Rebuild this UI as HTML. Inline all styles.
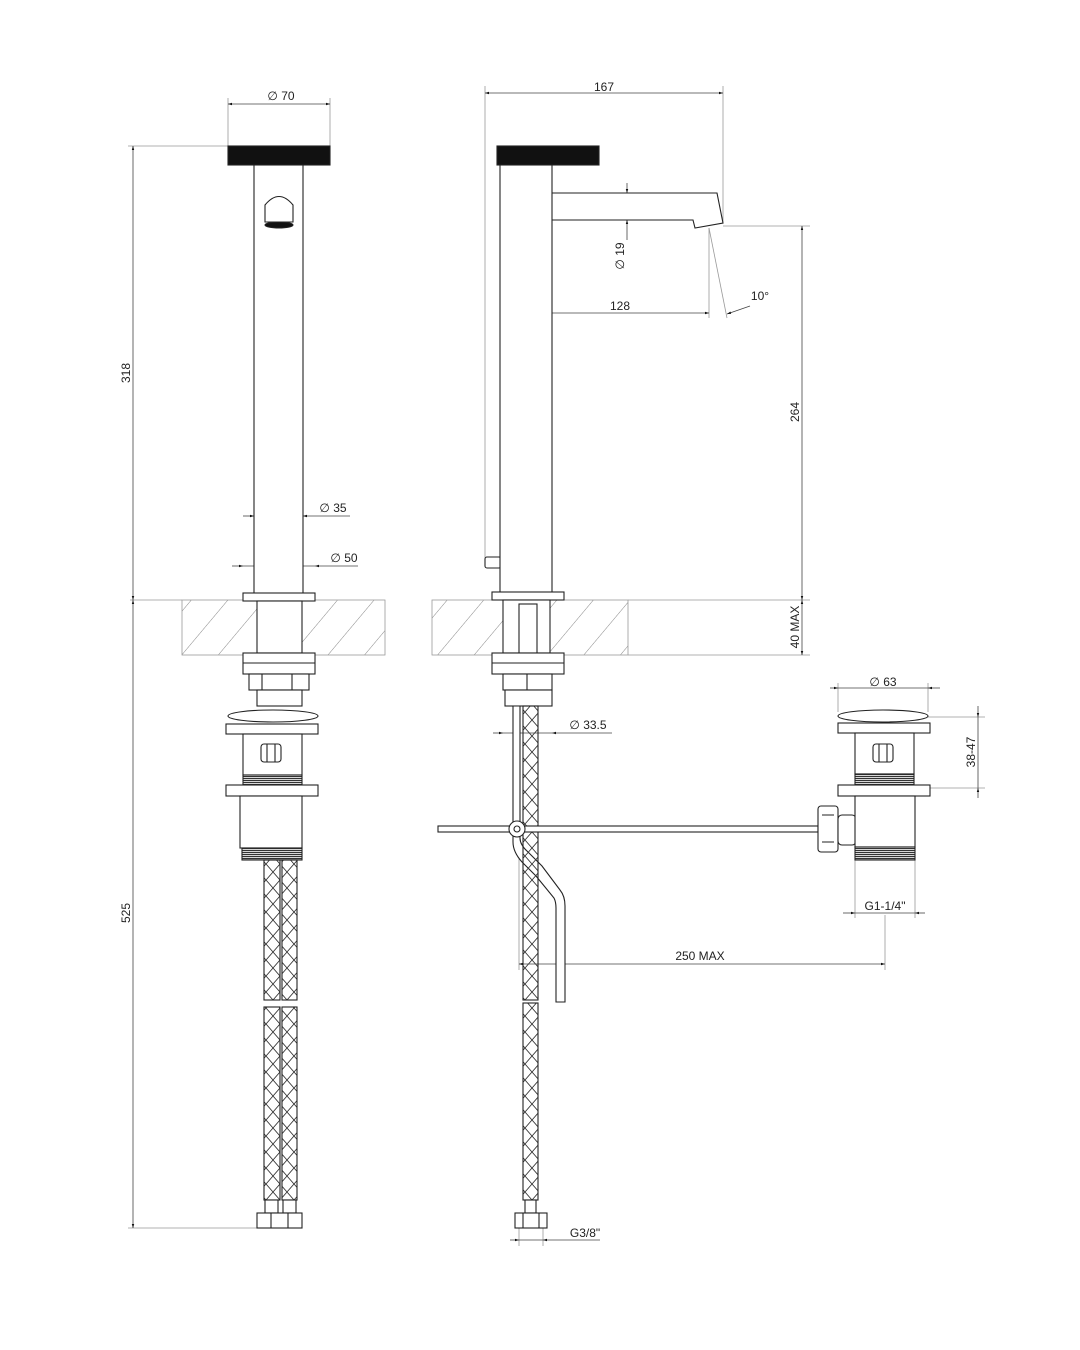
<!DOCTYPE html>
<html><head><meta charset="utf-8"><style>body{margin:0;background:#fff}svg{display:block}text{font-family:"Liberation Sans",sans-serif;font-size:12px;fill:#222}</style></head><body>
<svg width="1080" height="1350" viewBox="0 0 1080 1350" xmlns="http://www.w3.org/2000/svg">
<defs>
<pattern id="hatch" width="28" height="28" patternUnits="userSpaceOnUse" patternTransform="rotate(40)"><line x1="0" y1="0" x2="0" y2="28" stroke="#888" stroke-width="1"/></pattern>
<pattern id="braid" width="14" height="16" patternUnits="userSpaceOnUse"><path d="M0 0L14 16M14 0L0 16" stroke="#333" stroke-width="0.9" fill="none"/></pattern>
<pattern id="thread" width="4" height="2" patternUnits="userSpaceOnUse"><rect width="4" height="1.2" fill="#333"/></pattern>
<marker id="ar" viewBox="0 0 10 10" refX="10" refY="5" markerWidth="8" markerHeight="5" orient="auto-start-reverse"><path d="M0 2L10 5L0 8z" fill="#111"/></marker>
</defs>
<g fill="none" stroke="#999" stroke-width="0.8">
<rect x="182" y="600" width="203" height="55" fill="url(#hatch)"/>
<rect x="432" y="600" width="196" height="55" fill="url(#hatch)"/>
<line x1="130" y1="600" x2="182" y2="600"/><line x1="628" y1="600" x2="810" y2="600"/><line x1="628" y1="655" x2="810" y2="655"/>
<line x1="128" y1="146" x2="228" y2="146"/><line x1="128" y1="1228" x2="257" y2="1228"/>
<line x1="228" y1="98" x2="228" y2="146"/><line x1="330" y1="98" x2="330" y2="146"/>
<line x1="485" y1="86" x2="485" y2="565"/><line x1="723" y1="86" x2="723" y2="222"/>
<line x1="723" y1="226" x2="810" y2="226"/>
<line x1="709" y1="228" x2="709" y2="318"/><line x1="709" y1="228" x2="727" y2="318"/>
<line x1="519" y1="706" x2="519" y2="970"/><line x1="885" y1="915" x2="885" y2="970"/>
<line x1="855" y1="860" x2="855" y2="918"/><line x1="915" y1="860" x2="915" y2="918"/>
<line x1="838" y1="683" x2="838" y2="712"/><line x1="928" y1="683" x2="928" y2="712"/>
<line x1="900" y1="717" x2="985" y2="717"/><line x1="930" y1="788" x2="985" y2="788"/>
<line x1="519" y1="1228" x2="519" y2="1246"/><line x1="543" y1="1228" x2="543" y2="1246"/>
</g>
<g stroke="#444" stroke-width="0.8" fill="none">
<line x1="133" y1="146" x2="133" y2="600" marker-start="url(#ar)" marker-end="url(#ar)"/>
<line x1="133" y1="600" x2="133" y2="1228" marker-start="url(#ar)" marker-end="url(#ar)"/>
<line x1="228" y1="104" x2="330" y2="104" marker-start="url(#ar)" marker-end="url(#ar)"/>
<line x1="243" y1="516" x2="254" y2="516" marker-end="url(#ar)"/><line x1="254" y1="516" x2="303" y2="516"/><line x1="350" y1="516" x2="303" y2="516" marker-end="url(#ar)"/>
<line x1="232" y1="566" x2="243" y2="566" marker-end="url(#ar)"/><line x1="243" y1="566" x2="315" y2="566"/><line x1="358" y1="566" x2="315" y2="566" marker-end="url(#ar)"/>
<line x1="485" y1="93" x2="723" y2="93" marker-start="url(#ar)" marker-end="url(#ar)"/>
<line x1="627" y1="183" x2="627" y2="193" marker-end="url(#ar)"/><line x1="627" y1="240" x2="627" y2="220" marker-end="url(#ar)"/>
<line x1="527" y1="313" x2="709" y2="313" marker-start="url(#ar)" marker-end="url(#ar)"/>
<line x1="750" y1="306" x2="727" y2="314" marker-end="url(#ar)"/>
<line x1="802" y1="226" x2="802" y2="600" marker-start="url(#ar)" marker-end="url(#ar)"/>
<line x1="802" y1="600" x2="802" y2="655" marker-start="url(#ar)" marker-end="url(#ar)"/>
<line x1="493" y1="733" x2="503" y2="733" marker-end="url(#ar)"/><line x1="503" y1="733" x2="552" y2="733"/><line x1="612" y1="733" x2="552" y2="733" marker-end="url(#ar)"/>
<line x1="830" y1="688" x2="838" y2="688" marker-end="url(#ar)"/><line x1="838" y1="688" x2="928" y2="688"/><line x1="940" y1="688" x2="928" y2="688" marker-end="url(#ar)"/>
<line x1="978" y1="706" x2="978" y2="717" marker-end="url(#ar)"/><line x1="978" y1="717" x2="978" y2="788"/><line x1="978" y1="798" x2="978" y2="788" marker-end="url(#ar)"/>
<line x1="843" y1="913" x2="855" y2="913" marker-end="url(#ar)"/><line x1="855" y1="913" x2="915" y2="913"/><line x1="925" y1="913" x2="915" y2="913" marker-end="url(#ar)"/>
<line x1="519" y1="964" x2="885" y2="964" marker-start="url(#ar)" marker-end="url(#ar)"/>
<line x1="510" y1="1240" x2="519" y2="1240" marker-end="url(#ar)"/><line x1="519" y1="1240" x2="543" y2="1240"/><line x1="600" y1="1240" x2="543" y2="1240" marker-end="url(#ar)"/>
</g>
<!-- LEFT VIEW -->
<g stroke="#222" stroke-width="1.1" fill="#fff">
<rect x="228" y="146" width="102" height="19" fill="#111"/>
<rect x="254" y="165" width="49" height="430"/>
<path d="M265 222 V205 Q279 188 293 205 V222 Z"/><ellipse cx="279" cy="225" rx="14" ry="3" fill="#111"/>
<rect x="243" y="593" width="72" height="8"/>
<rect x="257" y="601" width="45" height="52"/>
<rect x="243" y="653" width="72" height="21"/><line x1="243" y1="663" x2="315" y2="663"/>
<rect x="249" y="674" width="60" height="16"/><line x1="262" y1="674" x2="262" y2="690"/><line x1="292" y1="674" x2="292" y2="690"/>
<rect x="257" y="690" width="45" height="16"/>
<ellipse cx="273" cy="716" rx="45" ry="6"/>
<rect x="226" y="724" width="92" height="10"/>
<rect x="243" y="734" width="59" height="41"/><rect x="261" y="744" width="20" height="18" rx="3"/><line x1="267" y1="744" x2="267" y2="762"/><line x1="275" y1="744" x2="275" y2="762"/>
<rect x="243" y="775" width="59" height="10" fill="url(#thread)"/>
<rect x="226" y="785" width="92" height="11"/>
<rect x="240" y="796" width="62" height="52"/>
<rect x="242" y="848" width="60" height="12" fill="url(#thread)"/>
<rect x="264" y="860" width="16" height="140" fill="url(#braid)"/><rect x="282" y="860" width="15" height="140" fill="url(#braid)"/>
<rect x="264" y="1007" width="16" height="193" fill="url(#braid)"/><rect x="282" y="1007" width="15" height="193" fill="url(#braid)"/>
<rect x="265" y="1200" width="13" height="13"/><rect x="283" y="1200" width="13" height="13"/>
<rect x="257" y="1213" width="45" height="15"/><line x1="271" y1="1213" x2="271" y2="1228"/><line x1="288" y1="1213" x2="288" y2="1228"/>
</g>
<!-- RIGHT VIEW -->
<g stroke="#222" stroke-width="1.1" fill="#fff">
<rect x="497" y="146" width="102" height="19" fill="#111"/>
<rect x="485" y="557" width="16" height="11" rx="2"/>
<path d="M552 193 H717 L723 223 L695 228 L693 220 H552 Q547 206 552 193 Z"/>
<rect x="500" y="165" width="52" height="428"/>
<rect x="492" y="592" width="72" height="8"/>
<rect x="503" y="600" width="47" height="53"/><rect x="519" y="604" width="18" height="49"/>
<rect x="492" y="653" width="72" height="21"/><line x1="492" y1="663" x2="564" y2="663"/>
<rect x="503" y="674" width="49" height="16"/><line x1="527" y1="674" x2="527" y2="690"/>
<rect x="505" y="690" width="47" height="16"/>
<path d="M513 706 V842 Q513 852 522 862 L536 876 L554 898 Q556 902 556 908 V1002 H565 V906 Q565 896 560 890 L542 866 L528 852 Q520 845 520 838 V706 Z"/>
<rect x="523" y="706" width="15" height="294" fill="url(#braid)"/>
<rect x="523" y="1003" width="15" height="197" fill="url(#braid)"/>
<rect x="525" y="1200" width="11" height="13"/>
<rect x="515" y="1213" width="32" height="15"/><line x1="523" y1="1213" x2="523" y2="1228"/><line x1="539" y1="1213" x2="539" y2="1228"/>
<rect x="438" y="826" width="380" height="6"/>
<circle cx="517" cy="829" r="8"/><circle cx="517" cy="829" r="3"/>
<rect x="818" y="806" width="20" height="46" rx="3"/><path d="M822 815 h12 M822 842 h12"/>
<rect x="838" y="815" width="18" height="30" rx="4"/>
<ellipse cx="883" cy="716" rx="45" ry="6"/>
<rect x="838" y="723" width="92" height="10"/>
<rect x="855" y="733" width="59" height="41"/><rect x="873" y="744" width="20" height="18" rx="3"/><line x1="879" y1="744" x2="879" y2="762"/><line x1="887" y1="744" x2="887" y2="762"/>
<rect x="855" y="774" width="59" height="11" fill="url(#thread)"/>
<rect x="838" y="785" width="92" height="11"/>
<rect x="855" y="796" width="60" height="51"/>
<rect x="855" y="847" width="60" height="13" fill="url(#thread)"/>
</g>
<g>
<text x="281" y="100" text-anchor="middle">∅ 70</text>
<text x="333" y="512" text-anchor="middle">∅ 35</text>
<text x="344" y="562" text-anchor="middle">∅ 50</text>
<text transform="translate(130,373) rotate(-90)" text-anchor="middle">318</text>
<text transform="translate(130,913) rotate(-90)" text-anchor="middle">525</text>
<text x="604" y="91" text-anchor="middle">167</text>
<text transform="translate(624,256) rotate(-90)" text-anchor="middle">∅ 19</text>
<text x="620" y="310" text-anchor="middle">128</text>
<text x="760" y="300" text-anchor="middle">10°</text>
<text transform="translate(799,412) rotate(-90)" text-anchor="middle">264</text>
<text transform="translate(799,627) rotate(-90)" text-anchor="middle">40 MAX</text>
<text x="588" y="729" text-anchor="middle">∅ 33.5</text>
<text x="883" y="686" text-anchor="middle">∅ 63</text>
<text transform="translate(975,752) rotate(-90)" text-anchor="middle">38-47</text>
<text x="885" y="910" text-anchor="middle">G1-1/4"</text>
<text x="700" y="960" text-anchor="middle">250 MAX</text>
<text x="585" y="1237" text-anchor="middle">G3/8"</text>
</g>
</svg>
</body></html>
